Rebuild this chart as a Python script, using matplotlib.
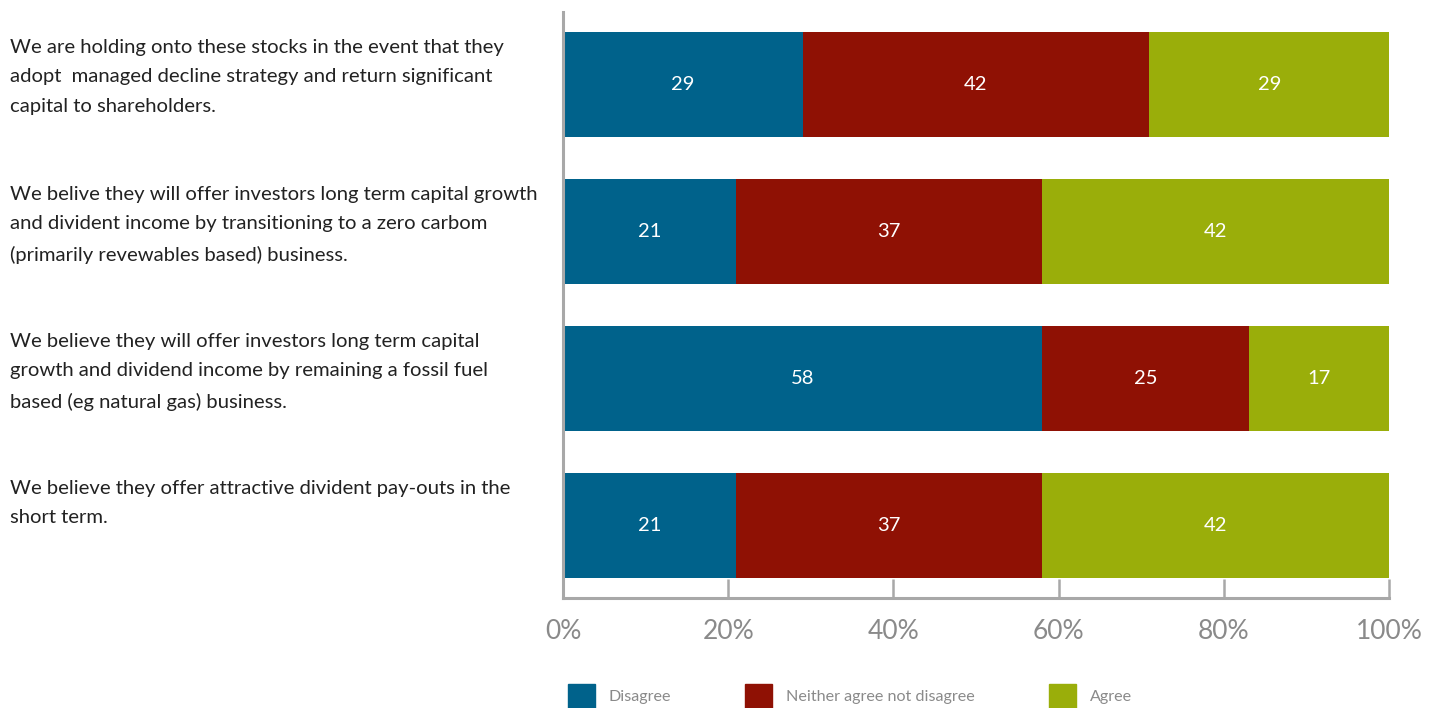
import matplotlib.pyplot as plt
import matplotlib.patches as mpatches
from matplotlib.transforms import blended_transform_factory
import numpy as np

statements = [
    "We are holding onto these stocks in the event that they\nadopt  managed decline strategy and return significant\ncapital to shareholders.",
    "We belive they will offer investors long term capital growth\nand divident income by transitioning to a zero carbom\n(primarily revewables based) business.",
    "We believe they will offer investors long term capital\ngrowth and dividend income by remaining a fossil fuel\nbased (eg natural gas) business.",
    "We believe they offer attractive divident pay-outs in the\nshort term.",
]
disagree = [29, 21, 58, 21]
neither = [42, 37, 25, 37]
agree = [29, 42, 17, 42]
series_names = ["Disagree", "Neither agree not disagree", "Agree"]
colors = ["#00628b", "#8f1104", "#9aae0a"]
ticks = [0, 20, 40, 60, 80, 100]

plt.rcParams['font.family'] = ['Lato', 'DejaVu Sans']

fig = plt.figure(figsize=(14.4, 7.08), dpi=100)
ax = fig.add_axes([563 / 1440, 110 / 708, 826 / 1440, 586 / 708])

y = np.arange(len(statements))
left = np.zeros(len(statements))
for vals, name, col in zip([disagree, neither, agree], series_names, colors):
    vals = np.array(vals)
    ax.barh(y, vals, left=left, height=0.714, color=col, label=name)
    for yi, l, v in zip(y, left, vals):
        ax.text(l + v / 2, yi, str(v), ha='center', va='center',
                color='white', fontsize=14.5)
    left = left + vals

ax.set_xlim(0, 100)
ax.set_ylim(len(statements) - 0.507, -0.493)

# statements on the left
trans = blended_transform_factory(fig.transFigure, ax.transData)
for yi, s in zip(y, statements):
    ax.text(10 / 1440, yi - 0.31, s, transform=trans, ha='left', va='top',
            fontsize=14.6, color='#222222', linespacing=1.88)

for side in ['top', 'right']:
    ax.spines[side].set_visible(False)
for side in ['left', 'bottom']:
    ax.spines[side].set_color('#a8a8a8')
    ax.spines[side].set_linewidth(2.2)
ax.set_yticks([])
ax.set_xticks(ticks)
ax.set_xticklabels([f"{t}%" for t in ticks])
ax.tick_params(axis='x', direction='in', length=14, width=1.8, color='#a8a8a8',
               labelcolor='#8a8a8a', labelsize=19, pad=15)

handles = [mpatches.Patch(color=c, label=n) for c, n in zip(colors, series_names)]
fig.legend(handles=handles, loc='lower left', bbox_to_anchor=(553 / 1440, -15 / 708),
           ncol=3, frameon=False, fontsize=11.6, labelcolor='#8a8a8a',
           handlelength=1.68, handleheight=2.0, handletextpad=0.87, columnspacing=4.6)

fig.savefig('out.png', dpi=100, facecolor='white')
